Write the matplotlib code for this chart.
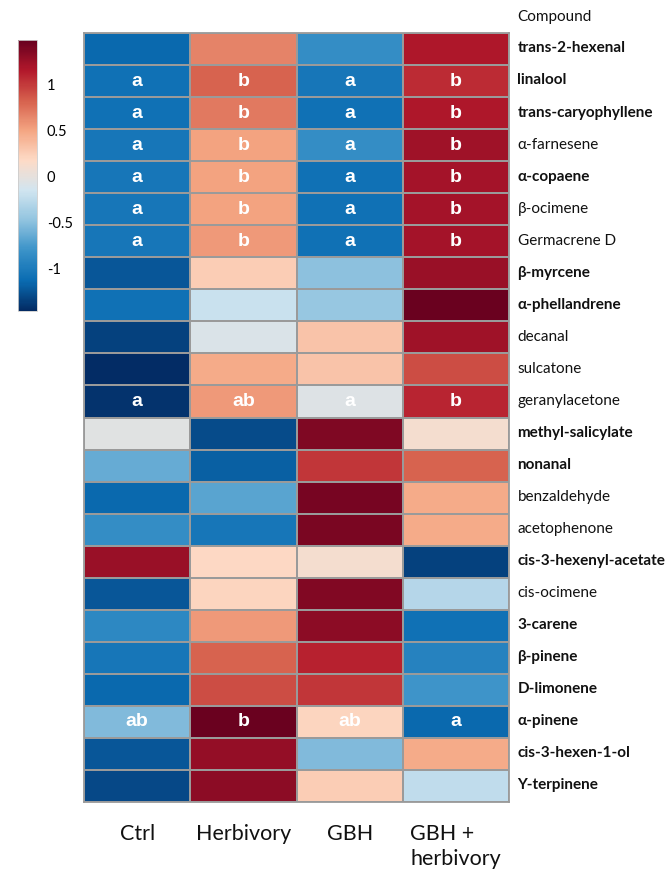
import numpy as np
import matplotlib
matplotlib.use("Agg")
import matplotlib.pyplot as plt
from matplotlib.colors import Normalize, LinearSegmentedColormap

plt.rcParams['font.family'] = ['Lato', 'DejaVu Sans']

compounds = [
    "trans-2-hexenal", "linalool", "trans-caryophyllene", "α-farnesene",
    "α-copaene", "β-ocimene", "Germacrene D", "β-myrcene", "α-phellandrene",
    "decanal", "sulcatone", "geranylacetone", "methyl-salicylate", "nonanal",
    "benzaldehyde", "acetophenone", "cis-3-hexenyl-acetate", "cis-ocimene",
    "3-carene", "β-pinene", "D-limonene", "α-pinene", "cis-3-hexen-1-ol",
    "Υ-terpinene",
]
bold_compounds = {
    "trans-2-hexenal", "linalool", "trans-caryophyllene", "α-copaene",
    "β-myrcene", "α-phellandrene", "methyl-salicylate", "nonanal",
    "cis-3-hexenyl-acetate", "3-carene", "β-pinene", "D-limonene",
    "α-pinene", "cis-3-hexen-1-ol", "Υ-terpinene",
}
treatments = ["Ctrl", "Herbivory", "GBH", "GBH +\nherbivory"]

# scaled (z-score) emission per treatment
ctrl = [-1.15, -1.10, -1.10, -1.05, -1.05, -1.05, -1.05, -1.25, -1.10, -1.35,
        -1.45, -1.42, -0.05, -0.65, -1.15, -0.85, 1.25, -1.25, -0.90, -1.05,
        -1.15, -0.55, -1.25, -1.32]
herbivory = [0.65, 0.80, 0.70, 0.50, 0.50, 0.50, 0.55, 0.25, -0.20, -0.10,
             0.45, 0.55, -1.30, -1.20, -0.70, -1.05, 0.18, 0.20, 0.55, 0.80,
             0.90, 1.45, 1.27, 1.30]
gbh = [-0.85, -1.05, -1.10, -0.85, -1.10, -1.10, -1.10, -0.50, -0.45, 0.30,
       0.30, -0.08, 1.36, 1.00, 1.40, 1.38, 0.10, 1.35, 1.30, 1.10,
       1.00, 0.20, -0.55, 0.25]
gbh_herbivory = [1.15, 1.05, 1.15, 1.22, 1.20, 1.20, 1.20, 1.25, 1.45, 1.22,
                 0.90, 1.08, 0.10, 0.80, 0.45, 0.45, -1.35, -0.30, -1.10, -0.95,
                 -0.80, -1.15, 0.45, -0.25]

# significance letters (row index -> letters per treatment)
letters = {
    1: ["a", "b", "a", "b"],
    2: ["a", "b", "a", "b"],
    3: ["a", "b", "a", "b"],
    4: ["a", "b", "a", "b"],
    5: ["a", "b", "a", "b"],
    6: ["a", "b", "a", "b"],
    11: ["a", "ab", "a", "b"],
    21: ["ab", "b", "ab", "a"],
}

data = np.column_stack([ctrl, herbivory, gbh, gbh_herbivory])
n_rows, n_cols = data.shape

# 10-step diverging blue-red ramp
palette = ["#032a62", "#0a6cb2", "#3a92c8", "#90c3df", "#d1e5f0",
           "#fddbc7", "#f4a582", "#d6604d", "#b2182b", "#67001f"]
cmap = LinearSegmentedColormap.from_list("bluered", palette, N=256)

W, H = 672, 870
fig = plt.figure(figsize=(W / 100, H / 100), dpi=100)

ax = fig.add_axes([84 / W, 1 - 803 / H, 425 / W, 769 / H])
norm = Normalize(vmin=-1.47, vmax=1.47)
mesh = ax.pcolormesh(np.arange(n_cols + 1), np.arange(n_rows + 1), data,
                     cmap=cmap, norm=norm, edgecolors="#9a9a9a",
                     linewidth=1.3)
ax.set_xlim(0, n_cols)
ax.set_ylim(n_rows, 0)
for s in ax.spines.values():
    s.set_edgecolor("#9a9a9a")
    s.set_linewidth(1.3)
ax.set_xticks([])
ax.set_yticks([])

for r, labs in letters.items():
    for c, lab in enumerate(labs):
        ax.text(c + 0.5, r + 0.47, lab, ha="center", va="center",
                color="white", fontsize=14, fontweight="bold",
                family=["Liberation Sans", "DejaVu Sans"])

# row labels on the right
for r, name in enumerate(compounds):
    ax.text(n_cols + 0.08, r + 0.45, name, ha="left", va="center",
            fontsize=11, color="#111111",
            fontweight="bold" if name in bold_compounds else "normal")
ax.text(n_cols + 0.08, -0.52, "Compound", ha="left", va="center",
        fontsize=11, color="#111111")

# column labels below
for c, t in enumerate(treatments):
    ax.text(c + 0.5, n_rows + 0.66, t, ha="center", va="top",
            multialignment="left", fontsize=15.5, color="#111111",
            linespacing=1.3)

# colour key
cax = fig.add_axes([18 / W, 1 - 312 / H, 19 / W, 271 / H])
cb = fig.colorbar(mesh, cax=cax, ticks=[-1, -0.5, 0, 0.5, 1])
cb.ax.set_yticklabels(["-1", "-0.5", "0", "0.5", "1"])
cb.ax.tick_params(length=0, labelsize=10.5, pad=7)
cb.outline.set_edgecolor("#cccccc")
cb.outline.set_linewidth(0.6)

fig.savefig("out.png", dpi=100)
